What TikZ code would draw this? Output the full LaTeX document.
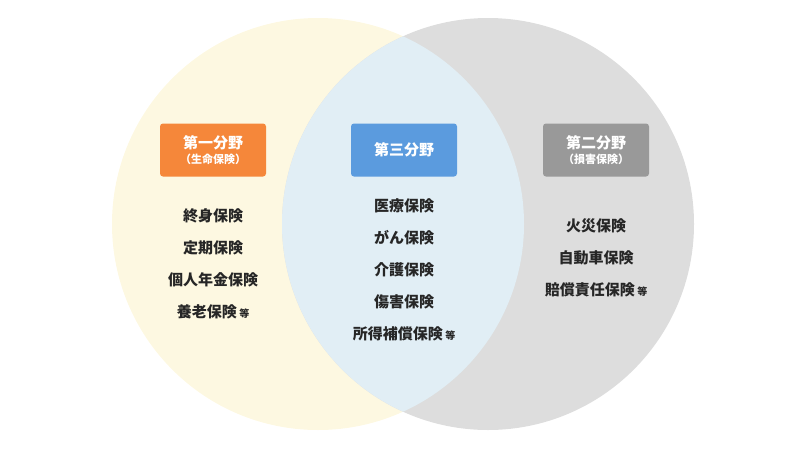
\documentclass[tikz,border=0pt]{standalone}
\usepackage{fontspec}
\setmainfont{Noto Sans CJK JP}
\usetikzlibrary{positioning}
\definecolor{lifefill}{HTML}{FDF8E1}
\definecolor{lossfill}{HTML}{DDDDDD}
\definecolor{thirdfill}{HTML}{E1EEF5}
\definecolor{lifebox}{HTML}{F5873A}
\definecolor{thirdbox}{HTML}{5B9BDE}
\definecolor{lossbox}{HTML}{999999}

\begin{document}
\begin{tikzpicture}[x=1pt, y=-1pt,
	fieldbox/.style = {rounded corners=3pt, text=white, font=\bfseries\fontsize{15}{17}\selectfont, minimum width=106pt, minimum height=53pt, align=center, inner sep=0pt},
	item/.style = {font=\bfseries\fontsize{15}{15}\selectfont, text=black!85, inner sep=0pt}
]
	\useasboundingbox (0,0) rectangle (800,450);

	\fill [lifefill] (318,224) circle (206);
	\fill [lossfill] (488,224) circle (206);
	\begin{scope}
		\clip (318,224) circle (206);
		\fill [thirdfill] (488,224) circle (206);
	\end{scope}

	\node [fieldbox, fill=lifebox] (life) at (213,150) {第一分野\\[-2pt]{\fontsize{11}{12}\selectfont（生命保険）}};
	\node [fieldbox, fill=thirdbox] (third) at (404,150) {第三分野};
	\node [fieldbox, fill=lossbox] (loss) at (596,150) {第二分野\\[-2pt]{\fontsize{11}{12}\selectfont（損害保険）}};

	\foreach \t [count=\i] in {終身保険, 定期保険, 個人年金保険, 養老保険\,{\fontsize{10}{10}\selectfont 等}}
	{
		\node [item] (life\i) at (213,184+32*\i) {\t};
	}

	\foreach \t [count=\i] in {医療保険, がん保険, 介護保険, 傷害保険, 所得補償保険\,{\fontsize{10}{10}\selectfont 等}}
	{
		\node [item] (third\i) at (404,174+32*\i) {\t};
	}

	\foreach \t [count=\i] in {火災保険, 自動車保険, 賠償責任保険\,{\fontsize{10}{10}\selectfont 等}}
	{
		\node [item] (loss\i) at (596,194+32*\i) {\t};
	}
\end{tikzpicture}
\end{document}
